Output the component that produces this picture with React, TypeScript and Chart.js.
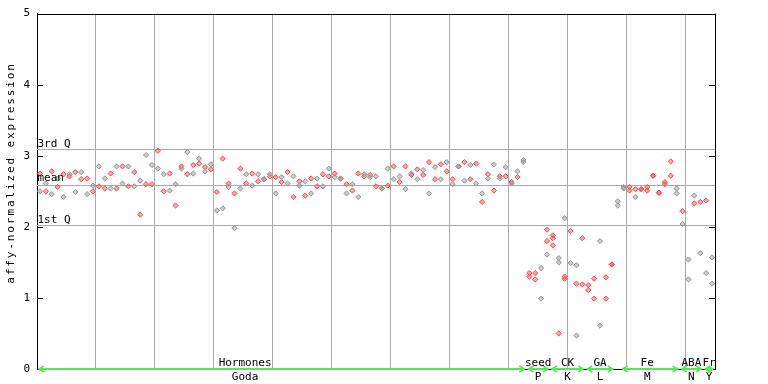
import React, { useEffect, useRef } from "react";
import { Chart, registerables } from "chart.js";
Chart.register(...registerables);

// values per sample (column), replicate 1 and 2
const rep1 = [
  2.75, 2.61, 2.78, 2.68, 2.74, 2.74, 2.77, 2.77, 2.68, 2.58,
  2.85, 2.68, 2.75, 2.85, 2.85, 2.85, 2.77, 2.65, 3.01, 2.87,
  3.07, 2.74, 2.75, 2.6, 2.85, 3.05, 2.87, 2.96, 2.84, 2.88,
  2.49, 2.96, 2.61, 2.47, 2.82, 2.74, 2.75, 2.74, 2.67, 2.74,
  2.7, 2.7, 2.77, 2.71, 2.64, 2.64, 2.68, 2.68, 2.74, 2.82,
  2.75, 2.68, 2.6, 2.6, 2.75, 2.74, 2.73, 2.71, 2.54, 2.82,
  2.85, 2.71, 2.85, 2.75, 2.81, 2.8, 2.91, 2.84, 2.88, 2.91,
  2.67, 2.85, 2.91, 2.87, 2.89, 2.47, 2.74, 2.88, 2.71, 2.84,
  2.63, 2.78, 2.94, 1.35, 1.35, 1.42, 1.96, 1.88, 1.56, 2.12,
  1.94, 1.46, 1.84, 1.18, 1.27, 1.8, 1.29, 1.47, 2.36, 2.56,
  2.56, 2.53, 2.53, 2.56, 2.72, 2.48, 2.63, 2.92, 2.54, 2.22,
  1.54, 2.44, 2.35, 2.37, 1.57,
];
const rep2 = [
  2.5, 2.5, 2.46, 2.56, 2.42, 2.71, 2.49, 2.67, 2.46, 2.5,
  2.57, 2.54, 2.54, 2.54, 2.61, 2.57, 2.57, 2.17, 2.6, 2.6,
  2.82, 2.5, 2.51, 2.3, 2.82, 2.74, 2.75, 2.89, 2.78, 2.81,
  2.23, 2.26, 2.56, 1.98, 2.54, 2.61, 2.58, 2.64, 2.67, 2.71,
  2.47, 2.63, 2.61, 2.42, 2.58, 2.44, 2.47, 2.57, 2.57, 2.71,
  2.7, 2.68, 2.47, 2.51, 2.42, 2.71, 2.7, 2.57, 2.54, 2.58,
  2.67, 2.63, 2.53, 2.73, 2.67, 2.73, 2.47, 2.67, 2.67, 2.78,
  2.6, 2.85, 2.65, 2.67, 2.61, 2.35, 2.68, 2.51, 2.68, 2.71,
  2.61, 2.7, 2.91, 1.3, 1.26, 0.99, 1.8, 1.84, 1.5, 1.3,
  1.49, 1.2, 1.19, 1.11, 0.99, 0.61, 0.99, 1.47, 2.3, 2.54,
  2.51, 2.42, 2.53, 2.51, 2.72, 2.48, 2.6, 2.72, 2.47, 2.04,
  1.26, 2.33, 1.63, 1.35, 1.2,
];
// r = red series, g = gray series
const rep1Color =
  "rgrgrgrgrg" + "ggrgrgrggg" + "rgrgrgrgrg" + "rrrrrgrgrg" +
  "rgrgrgrgrg" + "rgrgrgrgrg" + "rgrgrgrgrg" + "rgrgrgrgrg" +
  "rggrrgrrgg" + "rgrrrgrrgg" + "rrrrrrrrgr" + "ggrrg";
const rep2Color =
  "grgrgrgrgr" + "rrgrgrgrrr" + "grgrgrgrgr" + "gggggrgrgr" +
  "grgrgrgrgr" + "grgrgrgrgr" + "grgrgrgrgr" + "grgrgrgrgr" +
  "grgrrgrrgr" + "grrrrgrrgg" + "rgrrrrrrgg" + "grggg";
const rep3Idx = [86, 87, 88, 89, 91];
const rep3Val = [1.61, 1.74, 0.5, 1.27, 0.47];
const rep3Color = "grrrg";

const groupNames = ["Hormones", "seed", "CK", "GA", "Fe", "ABA", "Fr"];
const groupSubNames = ["Goda", "P", "K", "L", "M", "N", "Y"];
const groupStart = [0, 83, 87, 93, 99, 109, 113];
const groupEnd = [82, 86, 92, 97, 108, 112, 114];
const groupLabelAt = [34.8, 84.5, 89.5, 95, 103, 110.5, 113.5];

const quartileNames = ["3rd Q", "mean", "1st Q"];
const quartileValues = [3.1, 2.585, 2.03];
const yTickValues = [0, 1, 2, 3, 4, 5];
const yTitle = "affy-normalized expression";

const FONT_FAMILY = "'DejaVu Sans Mono', monospace";
const FONT = "11px " + FONT_FAMILY;
const RED = "rgb(255,75,75)";
const GRAY = "rgb(150,150,150)";
const GREEN = "rgb(80,235,80)";

function buildPoints() {
  const red: { x: number; y: number }[] = [];
  const gray: { x: number; y: number }[] = [];
  const add = (i: number, v: number, c: string) => (c === "r" ? red : gray).push({ x: i, y: v });
  rep1.forEach((v, i) => add(i, v, rep1Color[i]));
  rep2.forEach((v, i) => add(i, v, rep2Color[i]));
  rep3Idx.forEach((i, k) => add(i, rep3Val[k], rep3Color[k]));
  return { red, gray };
}

const overlay = {
  id: "overlay",
  beforeDatasetsDraw(chart: any) {
    const { ctx, chartArea, scales } = chart;
    const y = scales.y;
    ctx.save();
    ctx.strokeStyle = "#aaaaaa";
    ctx.lineWidth = 1;
    quartileValues.forEach((v) => {
      const py = Math.round(y.getPixelForValue(v)) + 0.5;
      ctx.beginPath();
      ctx.moveTo(chartArea.left, py);
      ctx.lineTo(chartArea.right, py);
      ctx.stroke();
    });
    ctx.restore();
  },
  afterDraw(chart: any) {
    const { ctx, chartArea, scales } = chart;
    const { left, right, top, bottom } = chartArea;
    const x = scales.x;
    const y = scales.y;
    ctx.save();
    // frame
    ctx.strokeStyle = "#000";
    ctx.lineWidth = 1;
    ctx.beginPath();
    ctx.moveTo(left, Math.round(top) + 0.5);
    ctx.lineTo(right, Math.round(top) + 0.5);
    ctx.moveTo(Math.round(right) + 0.5, top);
    ctx.lineTo(Math.round(right) + 0.5, bottom);
    ctx.stroke();
    // inward ticks
    ctx.beginPath();
    yTickValues.forEach((v) => {
      const py = Math.round(y.getPixelForValue(v)) + 0.5;
      ctx.moveTo(left, py);
      ctx.lineTo(left + 6, py);
      ctx.moveTo(right - 6, py);
      ctx.lineTo(right, py);
    });
    ctx.stroke();

    // quartile labels
    ctx.fillStyle = "#000";
    ctx.font = FONT;
    ctx.textAlign = "left";
    ctx.textBaseline = "alphabetic";
    quartileNames.forEach((n, k) => {
      const py = y.getPixelForValue(quartileValues[k]);
      ctx.fillText(n, left + 0.5, py - (k === 1 ? 4 : 2));
    });

    // y title
    ctx.save();
    ctx.translate(11, 173);
    ctx.rotate(-Math.PI / 2);
    ctx.textAlign = "center";
    ctx.textBaseline = "middle";
    (ctx as any).letterSpacing = "1.9px";
    ctx.fillText(yTitle, 0, 0);
    ctx.restore();

    // group arrows
    ctx.strokeStyle = GREEN;
    const ay = bottom;
    groupNames.forEach((name, k) => {
      const x1 = x.getPixelForValue(groupStart[k] - 0.5) + 2;
      const x2 = x.getPixelForValue(groupEnd[k] + 0.5) - 2;
      ctx.lineWidth = 2;
      ctx.beginPath();
      ctx.moveTo(x1, ay);
      ctx.lineTo(x2, ay);
      ctx.stroke();
      ctx.lineWidth = 1.5;
      ctx.beginPath();
      ctx.moveTo(x1 + 5, ay - 3);
      ctx.lineTo(x1, ay);
      ctx.lineTo(x1 + 5, ay + 3);
      ctx.moveTo(x2 - 5, ay - 3);
      ctx.lineTo(x2, ay);
      ctx.lineTo(x2 - 5, ay + 3);
      ctx.stroke();
    });
    ctx.fillStyle = "#000";
    ctx.textAlign = "center";
    groupNames.forEach((name, k) => {
      const cx = x.getPixelForValue(groupLabelAt[k]);
      ctx.fillText(name, cx, bottom - 3);
      ctx.fillText(groupSubNames[k], cx, bottom + 11);
    });
    ctx.restore();
  },
};

export default function App() {
  const ref = useRef<HTMLCanvasElement | null>(null);
  useEffect(() => {
    document.body.style.margin = "0";
    if (!ref.current) return;
    const { red, gray } = buildPoints();
    const pt = (c: string, bg: string) => ({
      pointStyle: "rectRot" as const,
      pointRadius: 2.6,
      pointBorderWidth: 1,
      pointBorderColor: c,
      pointBackgroundColor: bg,
      showLine: false,
    });
    const chart = new Chart(ref.current, {
      type: "scatter",
      data: {
        datasets: [
          { label: "gray", data: gray, ...pt(GRAY, "rgba(150,150,150,0.5)") },
          { label: "red", data: red, ...pt(RED, "rgba(255,75,75,0.5)") },
        ],
      },
      options: {
        responsive: false,
        animation: false,
        events: [],
        layout: { padding: { top: 13, right: 53, left: 0, bottom: 0 } },
        plugins: { legend: { display: false }, tooltip: { enabled: false } },
        scales: {
          x: {
            type: "linear",
            min: -0.5,
            max: 114.5,
            afterBuildTicks: (scale: any) => {
              const t = [];
              for (let v = -0.5; v < 114; v += 10) t.push({ value: v });
              scale.ticks = t;
            },
            afterFit: (scale: any) => {
              scale.height = 15;
            },
            ticks: { display: false },
            grid: { color: "#aaaaaa", lineWidth: 1, drawTicks: false },
            border: { display: true, color: "#000", width: 1 },
          },
          y: {
            min: 0,
            max: 5,
            afterFit: (scale: any) => {
              scale.width = 37;
            },
            ticks: {
              stepSize: 1,
              padding: 7,
              color: "#000",
              font: { family: FONT_FAMILY, size: 11 },
            },
            grid: { drawOnChartArea: false, drawTicks: false },
            border: { display: true, color: "#000", width: 1 },
          },
        },
      },
      plugins: [overlay],
    });
    return () => chart.destroy();
  }, []);
  return (
    <div style={{ width: 768, height: 384, background: "#fff" }}>
      <canvas ref={ref} width={768} height={384} style={{ display: "block" }} />
    </div>
  );
}
